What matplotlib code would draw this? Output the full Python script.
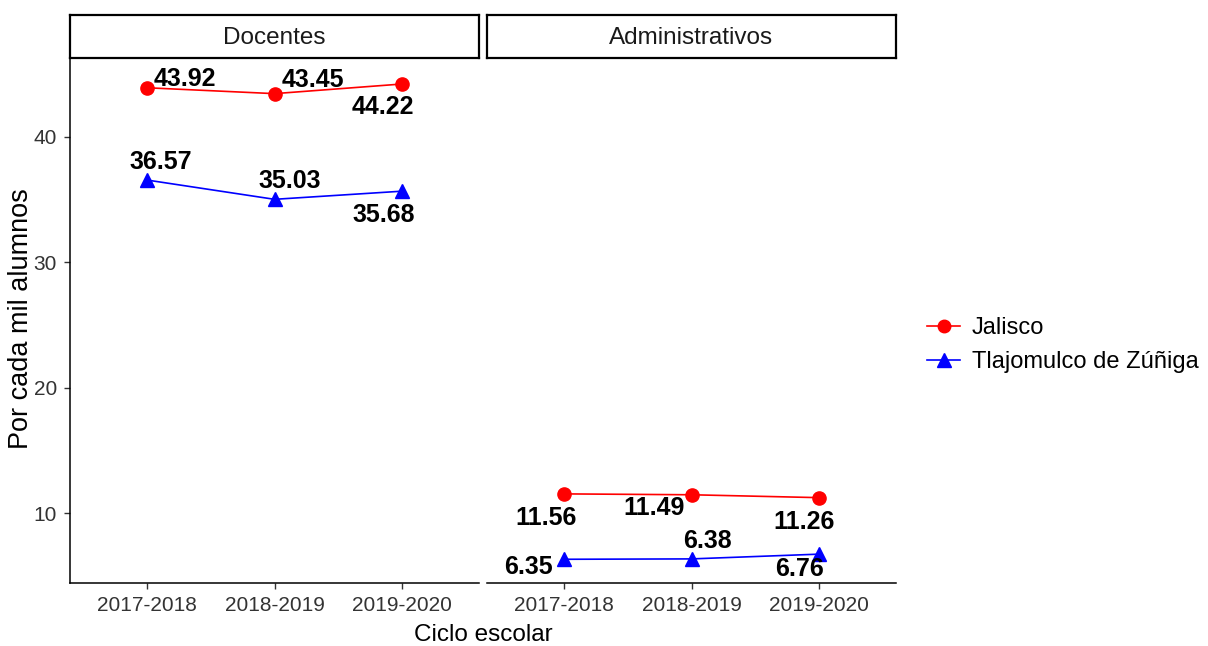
import matplotlib.pyplot as plt
from matplotlib.lines import Line2D

plt.rcParams['font.family'] = ['Liberation Sans', 'DejaVu Sans']

# datos
ciclos = ['2017-2018', '2018-2019', '2019-2020']
paneles = ['Docentes', 'Administrativos']
jalisco = {'Docentes': [43.92, 43.45, 44.22], 'Administrativos': [11.56, 11.49, 11.26]}
tlajo = {'Docentes': [36.57, 35.03, 35.68], 'Administrativos': [6.35, 6.38, 6.76]}

# desplazamiento de las etiquetas en pixeles (como ggrepel)
off_jal = {'Docentes': [(38, 9), (38, 14), (-19, -23)],
           'Administrativos': [(-18, -24), (-37, -13), (-15, -24)]}
off_tla = {'Docentes': [(14, 18), (15, 18), (-19, -24)],
           'Administrativos': [(-35, -8), (16, 18), (-20, -15)]}

fig = plt.figure(figsize=(12.08, 6.46), dpi=100)
W, H = 1208, 646
x0s = [70, 487]
pw = 409
top, bot = 58, 583

for i, p in enumerate(paneles):
    ax = fig.add_axes([x0s[i] / W, (H - bot) / H, pw / W, (bot - top) / H])
    xs = range(len(ciclos))
    ax.plot(xs, jalisco[p], color='red', lw=1.2, marker='o', ms=9.5, zorder=3)
    ax.plot(xs, tlajo[p], color='blue', lw=1.2, marker='^', ms=10.5, zorder=3)
    for j in xs:
        ax.annotate(f'{jalisco[p][j]:.2f}', (j, jalisco[p][j]), xytext=off_jal[p][j],
                    textcoords='offset pixels', ha='center', va='center',
                    fontsize=18, fontweight='bold', color='black', zorder=4)
        ax.annotate(f'{tlajo[p][j]:.2f}', (j, tlajo[p][j]), xytext=off_tla[p][j],
                    textcoords='offset pixels', ha='center', va='center',
                    fontsize=18, fontweight='bold', color='black', zorder=4)
    ax.set_xlim(-0.6, 2.6)
    ax.set_ylim(4.46, 46.29)
    ax.set_xticks(list(xs))
    ax.set_xticklabels(ciclos)
    ax.set_yticks([10, 20, 30, 40])
    ax.tick_params(axis='both', length=4.5, width=1, color='#333333', labelsize=15,
                   labelcolor='#333333', pad=5)
    for s in ['top', 'right']:
        ax.spines[s].set_visible(False)
    ax.spines['bottom'].set_linewidth(1.1)
    ax.spines['left'].set_linewidth(1.1)
    if i == 1:
        ax.spines['left'].set_visible(False)
        ax.tick_params(axis='y', left=False, labelleft=False)

    # tira del panel
    sax = fig.add_axes([x0s[i] / W, (H - top) / H, pw / W, 43 / H])
    sax.set_xticks([])
    sax.set_yticks([])
    for s in sax.spines.values():
        s.set_linewidth(1.6)
    sax.text(0.5, 0.47, p, ha='center', va='center', fontsize=17.5, color='#1a1a1a',
             transform=sax.transAxes)

fig.text(21 / W, 1 - 319 / H, 'Por cada mil alumnos', ha='center', va='center',
         rotation=90, fontsize=19.5)
fig.text(483 / W, 1 - 635 / H, 'Ciclo escolar', ha='center', va='center', fontsize=17.5)

handles = [Line2D([], [], color='red', marker='o', ms=9, lw=1.2),
           Line2D([], [], color='blue', marker='^', ms=10, lw=1.2)]
fig.legend(handles, ['Jalisco', 'Tlajomulco de Zúñiga'], loc='center left',
           bbox_to_anchor=(906 / W, 1 - 345 / H), frameon=False, fontsize=17,
           handlelength=1.4, handletextpad=0.5, labelspacing=0.5)

fig.savefig('out.png', dpi=100)
